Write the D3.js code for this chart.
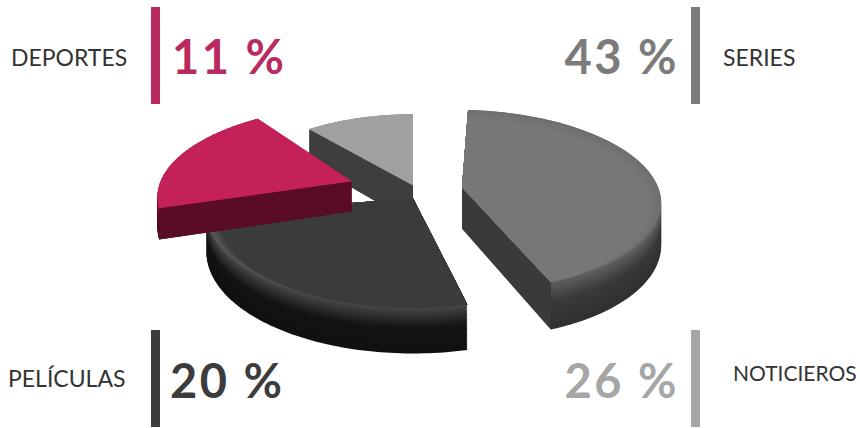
<!DOCTYPE html>
<html>
<head>
<meta charset="utf-8">
<script src="https://cdn.jsdelivr.net/npm/d3@7"></script>
<style>
html,body{margin:0;padding:0;background:#fff}
svg{display:block}
text{font-family:Lato,"Open Sans",sans-serif}
</style>
</head>
<body>
<svg id="chart" width="860" height="428"></svg>
<script>
// Audience shares, clockwise from the top of the pie, largest wedge first.
// The corner callouts keep their own printed values in calloutValues.
const wedgeNames = ["SERIES", "PELÍCULAS", "DEPORTES", "NOTICIEROS"];
const wedgeShares = [43, 26, 20, 11];

// Callouts at the four corners
const calloutNames = ["DEPORTES", "SERIES", "PELÍCULAS", "NOTICIEROS"];
const calloutValues = [11, 43, 20, 26];

// Per-wedge drawing style, in the order of wedgeNames
const wedgeStyle = [
  {dx: 50, dy: -28, r: 200, depth: 42, spin: 4, bevel: 13, face: "#777777", glint: "#6f6f6f", rim: "#393939", wall: "#3a3a3a"},
  {dx: 0, dy: -4, r: 205, depth: 39, spin: 12, bevel: 15, face: "#3b3b3b", glint: "#5a5a5a", rim: "#141414", wall: "#2c2c2c"},
  {dx: -63, dy: -42, r: 197, depth: 31, spin: 4, bevel: 0, face: "#c4215a", glint: "#c4215a", rim: "#560a24", wall: "#5a0c27"},
  {dx: 0, dy: -32, r: 183, depth: 38, spin: 0, bevel: 0, face: "#a0a0a0", glint: "#a0a0a0", rim: "#3e3e3e", wall: "#3e3e3e"}
];
// Painter's order: back wedge first, the pink one sits on top of the dark one
const paintOrder = [3, 1, 2, 0];

// Callout placement and colour, in the order of calloutNames
const calloutStyle = [
  {bar: 151, top: 7, num: 172, numAnchor: "start", base: 74, name: 11, nameBase: 66, nameSize: 23, color: "#b92b60"},
  {bar: 691, top: 7, num: 679, numAnchor: "end", base: 74, name: 723, nameBase: 66, nameSize: 23, color: "#7b7b7b"},
  {bar: 151, top: 330, num: 170, numAnchor: "start", base: 398, name: 8, nameBase: 387, nameSize: 23, color: "#3c3c3c"},
  {bar: 691, top: 330, num: 679, numAnchor: "end", base: 398, name: 733, nameBase: 381, nameSize: 21, color: "#a6a6a6"}
];

const svg = d3.select("#chart");
const defs = svg.append("defs");

// Tilted view of the pie plane: Y grows toward the viewer, drop runs down from the top face
const originX = 413, originY = 200, tilt = 0.46, viewDist = 1400;
function project(X, Y, drop) {
  const w = viewDist / (viewDist - Y);
  return [originX + X * w, originY + (tilt * Y + drop) * w];
}

const arcs = d3.pie().sort(null).value(d => d)(wedgeShares);
const sweep = d3.scaleLinear().domain([0, 1]);
const lineGen = d3.line();
const toRad = Math.PI / 180;

function outline(arc, s, drop) {
  sweep.range([arc.startAngle + s.spin * toRad, arc.endAngle + s.spin * toRad]);
  const pts = [project(s.dx, s.dy, drop)];
  d3.range(0, 1.0001, 1 / 80).forEach(t => {
    const a = sweep(t);
    pts.push(project(s.dx + s.r * Math.sin(a), s.dy - s.r * Math.cos(a), drop));
  });
  return pts;
}

// Full disc on the top face, pushed toward the viewer and shrunk so it stays tangent at the back
function bevelDisc(s, inset) {
  const pts = d3.range(0, 360, 3).map(deg => {
    const a = deg * toRad;
    return project(s.dx + (s.r - inset) * Math.sin(a), s.dy + inset - (s.r - inset) * Math.cos(a), 0);
  });
  return lineGen(pts) + "Z";
}

function sideWall(a, s) {
  const ox = s.dx + s.r * Math.sin(a), oy = s.dy - s.r * Math.cos(a);
  return [project(s.dx, s.dy, 0), project(ox, oy, 0), project(ox, oy, s.depth), project(s.dx, s.dy, s.depth)];
}

const pie = svg.append("g");
const layers = 26, bevelSteps = 14;
paintOrder.forEach(i => {
  const arc = arcs[i], s = wedgeStyle[i];
  const g = pie.append("g").attr("class", "wedge");
  const faceD = lineGen(outline(arc, s, 0)) + "Z";

  // Stacked slices shade the outer wall from the foot up to the rim
  const shade = d3.scaleLinear().domain([0, 0.55, 1])
    .range([d3.color(s.rim).darker(0.5), s.rim, d3.interpolateRgb(s.rim, s.glint)(s.bevel ? 0.75 : 0.45)]);
  d3.range(layers + 1).forEach(k => {
    const f = k / layers;
    g.append("path")
      .attr("d", lineGen(outline(arc, s, s.depth * (1 - f))) + "Z")
      .attr("fill", shade(f));
  });

  // Only the flat sides turned toward the viewer get a wall
  const a0 = arc.startAngle + s.spin * toRad, a1 = arc.endAngle + s.spin * toRad;
  if (Math.sin(a0) < 0) g.append("path").attr("d", lineGen(sideWall(a0, s)) + "Z").attr("fill", s.wall);
  if (Math.sin(a1) > 0) g.append("path").attr("d", lineGen(sideWall(a1, s)) + "Z").attr("fill", s.wall);

  // Top face, with the rounded edge blended in over it
  g.append("path").attr("d", faceD).attr("fill", s.bevel ? s.glint : s.face);
  if (s.bevel) {
    const clipId = "face-clip-" + i;
    defs.append("clipPath").attr("id", clipId).append("path").attr("d", faceD);
    const bevelFill = d3.interpolateRgb(s.glint, s.face);
    const top = g.append("g").attr("clip-path", `url(#${clipId})`);
    d3.range(1, bevelSteps + 1).forEach(k => {
      const f = k / bevelSteps;
      top.append("path").attr("d", bevelDisc(s, s.bevel * f)).attr("fill", bevelFill(f));
    });
  }
});

// Corner callouts: vertical bar, percentage and name
const callouts = svg.append("g").selectAll("g").data(calloutNames).join("g");
callouts.append("rect")
  .attr("x", (d, i) => calloutStyle[i].bar)
  .attr("y", (d, i) => calloutStyle[i].top)
  .attr("width", 9).attr("height", 97)
  .attr("fill", (d, i) => calloutStyle[i].color);
callouts.append("text")
  .attr("x", (d, i) => calloutStyle[i].num)
  .attr("y", (d, i) => calloutStyle[i].base)
  .attr("text-anchor", (d, i) => calloutStyle[i].numAnchor)
  .attr("font-size", 47).attr("font-weight", 700)
  .attr("letter-spacing", 2.5)
  .attr("fill", (d, i) => calloutStyle[i].color)
  .text((d, i) => calloutValues[i] + " %");
callouts.append("text")
  .attr("x", (d, i) => calloutStyle[i].name)
  .attr("y", (d, i) => calloutStyle[i].nameBase)
  .attr("font-size", (d, i) => calloutStyle[i].nameSize)
  .attr("fill", "#333")
  .text(d => d);
</script>
</body>
</html>
